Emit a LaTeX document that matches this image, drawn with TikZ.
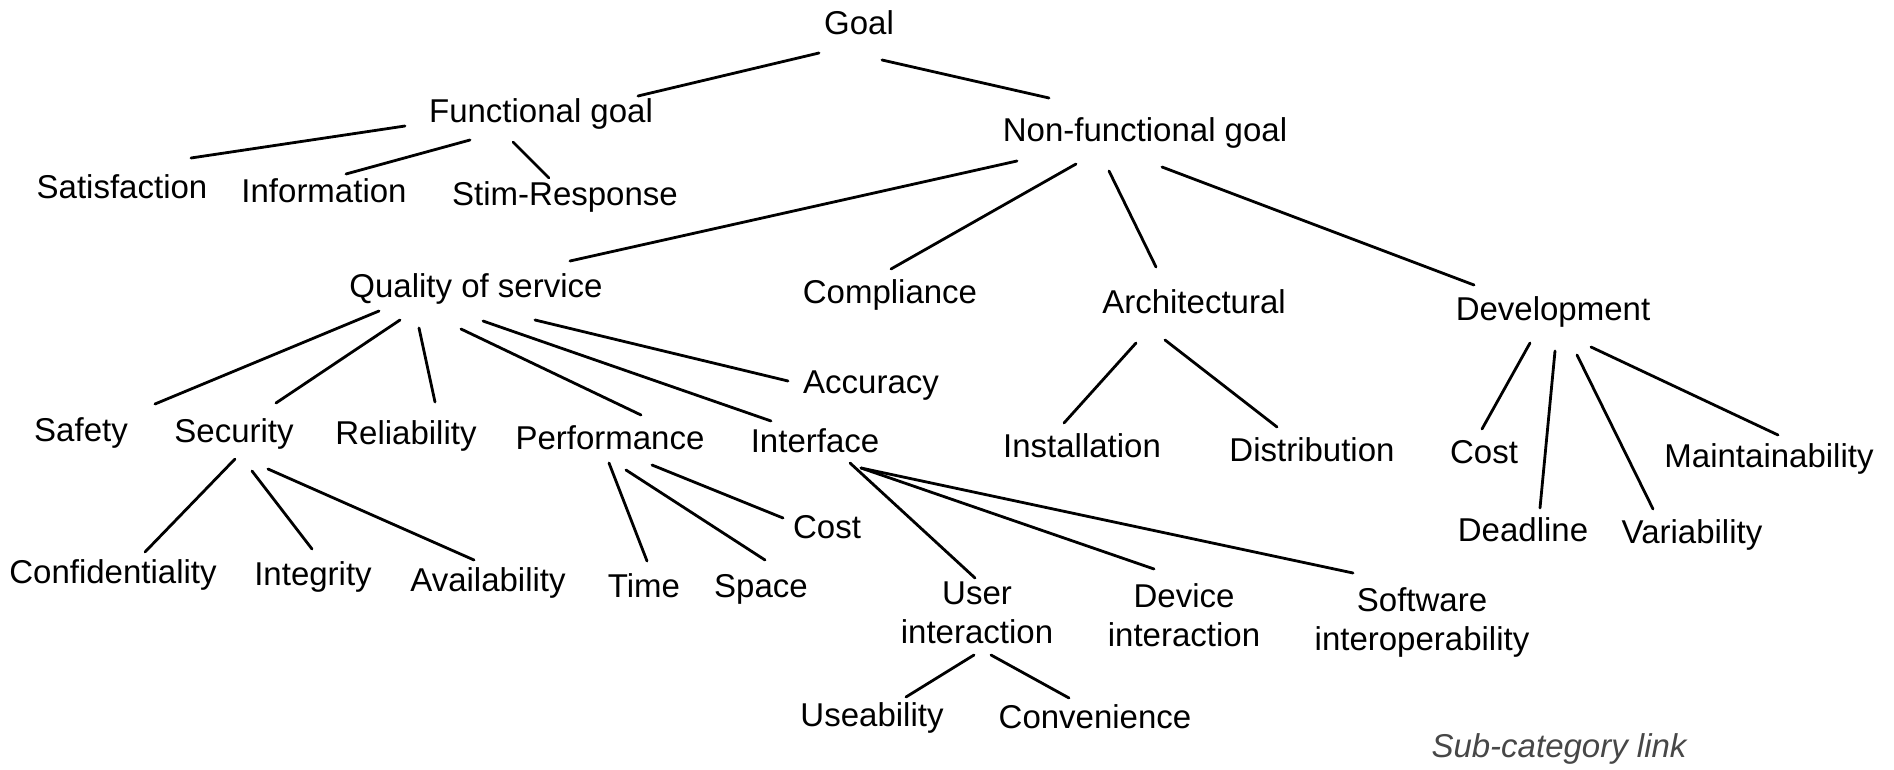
\documentclass[tikz,border=0pt]{standalone}
\usepackage{fontspec}
\setmainfont{Liberation Sans}
\begin{document}
\begin{tikzpicture}[x=1pt,y=-1pt,
  lbl/.style={inner sep=0pt,anchor=base,font=\fontsize{33}{39}\selectfont},
  two/.style={lbl},
  link/.style={line width=2.8pt,line cap=round}]
\useasboundingbox[fill=white] (0,0) rectangle (1894,770);
\newcommand{\tl}[2]{\begin{tabular}[t]{@{}c@{}}#1\\#2\end{tabular}}
% nodes
\node[lbl] (goal) at (859,35) {Goal};
\node[lbl] (func) at (541,123) {Functional goal};
\node[lbl] (nf) at (1145,142) {Non-functional goal};
\node[lbl] (sat) at (122,199) {Satisfaction};
\node[lbl] (info) at (324,202) {Information};
\node[lbl] (stim) at (565,205) {Stim-Response};
\node[lbl] (qos) at (476,297) {Quality of service};
\node[lbl] (comp) at (890,303) {Compliance};
\node[lbl] (arch) at (1194,313) {Architectural};
\node[lbl] (dev) at (1553,320) {Development};
\node[lbl] (acc) at (871,393) {Accuracy};
\node[lbl] (safety) at (81,441) {Safety};
\node[lbl] (sec) at (234,442) {Security};
\node[lbl] (rel) at (406,444) {Reliability};
\node[lbl] (perf) at (610,449) {Performance};
\node[lbl] (intf) at (815,452) {Interface};
\node[lbl] (inst) at (1082,457) {Installation};
\node[lbl] (dist) at (1312,461) {Distribution};
\node[lbl] (dcost) at (1484,463) {Cost};
\node[lbl] (maint) at (1769,467) {Maintainability};
\node[lbl] (pcost) at (827,538) {Cost};
\node[lbl] (dead) at (1523,541) {Deadline};
\node[lbl] (var) at (1692,543) {Variability};
\node[lbl] (conf) at (113,583) {Confidentiality};
\node[lbl] (integ) at (313,585) {Integrity};
\node[lbl] (avail) at (488,591) {Availability};
\node[lbl] (time) at (644,597) {Time};
\node[lbl] (space) at (761,597) {Space};
\node[two] (user) at (977,604) {\tl{User}{interaction}};
\node[two] (device) at (1184,607) {\tl{Device}{interaction}};
\node[two] (soft) at (1422,611) {\tl{Software}{interoperability}};
\node[lbl] (use) at (872,726) {Useability};
\node[lbl] (conv) at (1095,728) {Convenience};
\node[lbl,text=black!72,font=\fontsize{33}{39}\selectfont\itshape] (sub) at (1559,757) {Sub-category link};
% connectors
\draw[link] ([shift={(-40,18)}]goal.base) -- ([shift={(97,-27)}]func.base);
\draw[link] ([shift={(23,25)}]goal.base) -- ([shift={(-96,-44)}]nf.base);
\draw[link] ([shift={(-136,3)}]func.base) -- ([shift={(69,-41)}]sat.base);
\draw[link] ([shift={(-71,17)}]func.base) -- ([shift={(22,-28)}]info.base);
\draw[link] ([shift={(-28,19)}]func.base) -- ([shift={(-16,-27)}]stim.base);
\draw[link] ([shift={(-128,19)}]nf.base) -- ([shift={(94,-36)}]qos.base);
\draw[link] ([shift={(-69,22)}]nf.base) -- ([shift={(1,-34)}]comp.base);
\draw[link] ([shift={(-36,29)}]nf.base) -- ([shift={(-38,-46)}]arch.base);
\draw[link] ([shift={(17,25)}]nf.base) -- ([shift={(-79,-35)}]dev.base);
\draw[link] ([shift={(-97,14)}]qos.base) -- ([shift={(74,-37)}]safety.base);
\draw[link] ([shift={(-76,23)}]qos.base) -- ([shift={(42,-39)}]sec.base);
\draw[link] ([shift={(-57,31)}]qos.base) -- ([shift={(29,-42)}]rel.base);
\draw[link] ([shift={(-15,32)}]qos.base) -- ([shift={(31,-34)}]perf.base);
\draw[link] ([shift={(7,24)}]qos.base) -- ([shift={(-44,-31)}]intf.base);
\draw[link] ([shift={(59,23)}]qos.base) -- ([shift={(-83,-12)}]acc.base);
\draw[link] ([shift={(-58,30)}]arch.base) -- ([shift={(-18,-34)}]inst.base);
\draw[link] ([shift={(-29,27)}]arch.base) -- ([shift={(-35,-34)}]dist.base);
\draw[link] ([shift={(-23,23)}]dev.base) -- ([shift={(-2,-34)}]dcost.base);
\draw[link] ([shift={(2,31)}]dev.base) -- ([shift={(17,-33)}]dead.base);
\draw[link] ([shift={(24,35)}]dev.base) -- ([shift={(-39,-34)}]var.base);
\draw[link] ([shift={(38,27)}]dev.base) -- ([shift={(9,-32)}]maint.base);
\draw[link] ([shift={(1,17)}]sec.base) -- ([shift={(32,-31)}]conf.base);
\draw[link] ([shift={(18,29)}]sec.base) -- ([shift={(-1,-36)}]integ.base);
\draw[link] ([shift={(34,27)}]sec.base) -- ([shift={(-14,-31)}]avail.base);
\draw[link] ([shift={(-1,14)}]perf.base) -- ([shift={(3,-36)}]time.base);
\draw[link] ([shift={(16,21)}]perf.base) -- ([shift={(4,-37)}]space.base);
\draw[link] ([shift={(42,16)}]perf.base) -- ([shift={(-44,-20)}]pcost.base);
\draw[link] ([shift={(35,11)}]intf.base) -- ([shift={(-2,-26)}]user.base);
\draw[link] ([shift={(46,16)}]intf.base) -- ([shift={(-30,-38)}]device.base);
\draw[link] ([shift={(46,16)}]intf.base) -- ([shift={(-69,-38)}]soft.base);
\draw[link] ([shift={(-3,51)}]user.base) -- ([shift={(34,-29)}]use.base);
\draw[link] ([shift={(14,51)}]user.base) -- ([shift={(-26,-30)}]conv.base);
\end{tikzpicture}
\end{document}
